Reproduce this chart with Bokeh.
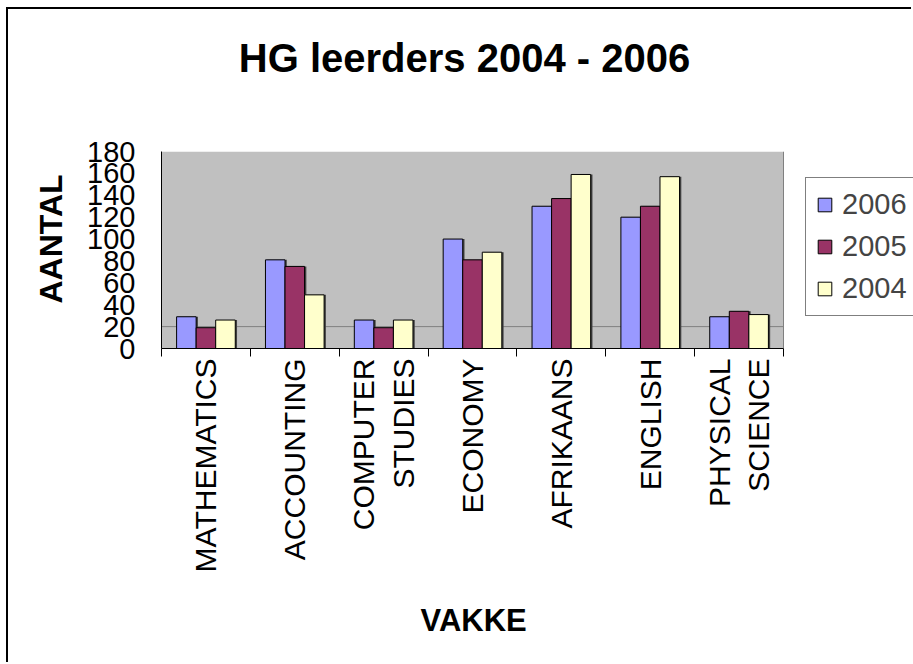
import math
import numpy as np
from bokeh.plotting import figure
from bokeh.models import (Range1d, LinearAxis, FixedTicker, Title,
                          Legend, LegendItem, ColumnDataSource)
from bokeh.transform import dodge
from bokeh.embed import file_html
from bokeh.resources import INLINE

# ---- data ----
categories = ["MATHEMATICS", "ACCOUNTING", "COMPUTER STUDIES", "ECONOMY",
              "AFRIKAANS", "ENGLISH", "PHYSICAL SCIENCE"]
tick_labels = ["MATHEMATICS", "ACCOUNTING", "COMPUTER\nSTUDIES", "ECONOMY",
               "AFRIKAANS", "ENGLISH", "PHYSICAL\nSCIENCE"]
series_names = ["2006", "2005", "2004"]
values_2006 = [29, 81, 26, 100, 130, 120, 29]
values_2005 = [19, 75, 19, 81, 137, 130, 34]
values_2004 = [26, 49, 26, 88, 159, 157, 31]
y_ticks = [0, 20, 40, 60, 80, 100, 120, 140, 160, 180]
y_max = 180
title_text = "HG leerders 2004 - 2006"
y_title = "AANTAL"
x_title = "VAKKE"

colors = ["#9999FF", "#993366", "#FFFFCC"]
FONT = "Liberation Sans"

n = len(categories)
centers = (np.arange(n) + 0.5).tolist()
bounds = list(range(n + 1))
src = ColumnDataSource(data=dict(x=centers, cat=categories, v2006=values_2006,
                                 v2005=values_2005, v2004=values_2004))

# plot area is 622 px wide; the frame continues 130 px to the right for the legend
x_end = n * (622 + 130) / 622
title_x = n * (464 - 161) / 622   # horizontal centre of the chart title

p = figure(x_range=Range1d(0, x_end), y_range=Range1d(0, y_max),
           width=905, height=655, output_backend="svg", toolbar_location=None,
           x_axis_location=None, y_axis_location="left",
           min_border_left=153, min_border_right=0,
           min_border_top=142, min_border_bottom=316)
p.styles = {"margin-left": "6px", "margin-top": "7px",
            "border-left": "2px solid black", "border-top": "2px solid black"}
p.background_fill_color = "white"
p.border_fill_color = "white"
p.outline_line_color = None
p.title.text = ""

# chart title (drawn as the single label of an axis above the plot)
ta = LinearAxis(ticker=FixedTicker(ticks=[title_x], minor_ticks=[]))
ta.axis_line_color = None
ta.major_tick_line_color = None
ta.minor_tick_line_color = None
ta.major_tick_out = 0
ta.major_tick_in = 0
ta.major_label_standoff = 72
ta.major_label_text_font = FONT
ta.major_label_text_font_size = "40px"
ta.major_label_text_font_style = "bold"
ta.major_label_text_color = "black"
ta.major_label_overrides = {title_x: title_text}
p.add_layout(ta, "above")

# grey plot area, single grid line at 20, right edge line
p.quad(left=0, right=n, bottom=0, top=y_max, fill_color="#C0C0C0", line_color=None)
p.xgrid.grid_line_color = None
p.ygrid.grid_line_color = None
p.segment(x0=0, x1=n, y0=20, y1=20, line_color="#808080", line_width=1)
p.segment(x0=n, x1=n, y0=0, y1=y_max, line_color="#808080", line_width=1)

# bars
bw = 0.22
offsets = [-bw, 0.0, bw]
cols = ["v2006", "v2005", "v2004"]
renderers = []
for off, col in zip(offsets, cols):
    p.vbar(x=dodge("x", off + 0.02), top=col, width=bw,
           source=src, fill_color="#404040", line_color=None)
for off, col, c in zip(offsets, cols, colors):
    r = p.vbar(x=dodge("x", off), top=col, width=bw,
               source=src, fill_color=c, line_color="black", line_width=1)
    renderers.append(r)

# y axis
ya = p.yaxis[0]
ya.ticker = FixedTicker(ticks=y_ticks)
ya.major_tick_out = 0
ya.major_tick_in = 0
ya.minor_tick_line_color = None
ya.axis_line_color = "black"
ya.major_label_text_font = FONT
ya.major_label_text_font_size = "29px"
ya.major_label_text_color = "black"
ya.major_label_standoff = 26

# x axis: labels at category centres, ticks (minor) at category boundaries
xa = LinearAxis(ticker=FixedTicker(ticks=centers, minor_ticks=bounds), bounds=(0, n))
xa.axis_line_color = "black"
xa.major_tick_line_color = None
xa.major_tick_out = 0
xa.major_tick_in = 0
xa.minor_tick_line_color = "black"
xa.minor_tick_out = 8
xa.minor_tick_in = 0
xa.major_label_orientation = math.pi / 2
xa.major_label_text_font = FONT
xa.major_label_text_font_size = "30px"
xa.major_label_text_color = "black"
xa.major_label_standoff = 2
xa.major_label_overrides = {x: t for x, t in zip(centers, tick_labels)}
p.add_layout(xa, "below")

# axis titles
p.add_layout(Title(text=x_title, text_font=FONT, text_font_size="31px",
                   text_font_style="bold", text_color="black",
                   align="left", offset=259, standoff=50), "below")
p.add_layout(Title(text=y_title, text_font=FONT, text_font_size="32px",
                   text_font_style="bold", text_color="black",
                   align="left", offset=45, standoff=32), "left")

# legend (inside the extended frame, to the right of the plot area)
legend = Legend(items=[LegendItem(label=s, renderers=[r]) for s, r in zip(series_names, renderers)],
                location=(644, 32), margin=0, padding=10, spacing=9,
                glyph_width=17, glyph_height=17, label_standoff=9,
                label_text_font=FONT, label_text_font_size="29px",
                border_line_color="black", border_line_width=1,
                background_fill_color="white", background_fill_alpha=1)
p.add_layout(legend)

open("out.html", "w").write(file_html(p, INLINE))
